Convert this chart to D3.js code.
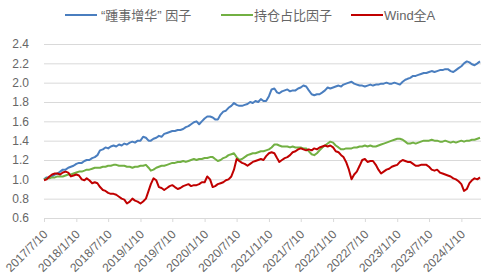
<!DOCTYPE html>
<html lang="zh">
<head>
    <meta charset="UTF-8">
    <title>d3</title>
    <script src="https://cdn.jsdelivr.net/npm/d3@7/dist/d3.min.js"></script>
    <style>
        body { margin: 0; background: #fff; }
        text { font-family: "Liberation Sans", Arial, "Noto Sans CJK SC", sans-serif; }
    </style>
</head>
<body>
    <script>
        // 半月一个数据点
        var dates = [
            "2017-07-10","2017-07-25","2017-08-10","2017-08-25","2017-09-10","2017-09-25","2017-10-10","2017-10-25","2017-11-10","2017-11-25","2017-12-10","2017-12-25",
            "2018-01-10","2018-01-25","2018-02-10","2018-02-25","2018-03-10","2018-03-25","2018-04-10","2018-04-25","2018-05-10","2018-05-25","2018-06-10","2018-06-25",
            "2018-07-10","2018-07-25","2018-08-10","2018-08-25","2018-09-10","2018-09-25","2018-10-10","2018-10-25","2018-11-10","2018-11-25","2018-12-10","2018-12-25",
            "2019-01-10","2019-01-25","2019-02-10","2019-02-25","2019-03-10","2019-03-25","2019-04-10","2019-04-25","2019-05-10","2019-05-25","2019-06-10","2019-06-25",
            "2019-07-10","2019-07-25","2019-08-10","2019-08-25","2019-09-10","2019-09-25","2019-10-10","2019-10-25","2019-11-10","2019-11-25","2019-12-10","2019-12-25",
            "2020-01-10","2020-01-25","2020-02-10","2020-02-25","2020-03-10","2020-03-25","2020-04-10","2020-04-25","2020-05-10","2020-05-25","2020-06-10","2020-06-25",
            "2020-07-10","2020-07-25","2020-08-10","2020-08-25","2020-09-10","2020-09-25","2020-10-10","2020-10-25","2020-11-10","2020-11-25","2020-12-10","2020-12-25",
            "2021-01-10","2021-01-25","2021-02-10","2021-02-25","2021-03-10","2021-03-25","2021-04-10","2021-04-25","2021-05-10","2021-05-25","2021-06-10","2021-06-25",
            "2021-07-10","2021-07-25","2021-08-10","2021-08-25","2021-09-10","2021-09-25","2021-10-10","2021-10-25","2021-11-10","2021-11-25","2021-12-10","2021-12-25",
            "2022-01-10","2022-01-25","2022-02-10","2022-02-25","2022-03-10","2022-03-25","2022-04-10","2022-04-25","2022-05-10","2022-05-25","2022-06-10","2022-06-25",
            "2022-07-10","2022-07-25","2022-08-10","2022-08-25","2022-09-10","2022-09-25","2022-10-10","2022-10-25","2022-11-10","2022-11-25","2022-12-10","2022-12-25",
            "2023-01-10","2023-01-25","2023-02-10","2023-02-25","2023-03-10","2023-03-25","2023-04-10","2023-04-25","2023-05-10","2023-05-25","2023-06-10","2023-06-25",
            "2023-07-10","2023-07-25","2023-08-10","2023-08-25","2023-09-10","2023-09-25","2023-10-10","2023-10-25","2023-11-10","2023-11-25","2023-12-10","2023-12-25",
            "2024-01-10","2024-01-25","2024-02-10","2024-02-25","2024-03-10","2024-03-25","2024-04-10","2024-04-25"
        ];
        // “踵事增华”因子
        var factorA = [
            1.00,1.02,1.02,1.03,1.05,1.06,1.08,1.10,1.10,1.12,1.13,1.14,
            1.16,1.17,1.17,1.19,1.20,1.20,1.22,1.23,1.25,1.30,1.31,1.33,
            1.32,1.34,1.35,1.34,1.36,1.35,1.37,1.36,1.38,1.39,1.38,1.40,
            1.40,1.44,1.43,1.40,1.40,1.42,1.43,1.45,1.44,1.47,1.48,1.49,
            1.50,1.50,1.51,1.51,1.52,1.54,1.55,1.57,1.59,1.60,1.57,1.60,
            1.63,1.65,1.65,1.64,1.62,1.62,1.67,1.70,1.71,1.74,1.76,1.79,
            1.77,1.76,1.76,1.77,1.78,1.80,1.79,1.81,1.80,1.83,1.81,1.81,
            1.86,1.93,1.94,1.90,1.89,1.91,1.92,1.93,1.91,1.92,1.92,1.94,
            1.95,1.97,1.96,1.92,1.88,1.87,1.88,1.88,1.90,1.92,1.95,1.94,
            1.95,1.96,1.97,1.96,1.98,1.99,2.00,2.01,1.99,1.98,1.97,1.97,
            1.96,1.97,1.98,1.97,1.98,1.98,1.99,1.99,2.00,1.99,1.99,2.00,
            1.99,1.98,2.01,2.03,2.04,2.05,2.07,2.07,2.08,2.09,2.10,2.10,
            2.11,2.12,2.11,2.12,2.13,2.13,2.14,2.14,2.12,2.11,2.13,2.15,
            2.17,2.20,2.22,2.21,2.19,2.18,2.20,2.22
        ];
        // 持仓占比因子
        var factorB = [
            1.00,1.01,1.01,1.02,1.02,1.03,1.03,1.03,1.04,1.05,1.05,1.06,
            1.07,1.08,1.08,1.09,1.10,1.10,1.11,1.12,1.12,1.12,1.13,1.13,
            1.14,1.14,1.15,1.15,1.14,1.14,1.14,1.13,1.13,1.12,1.13,1.13,
            1.14,1.14,1.15,1.12,1.09,1.10,1.12,1.13,1.14,1.14,1.15,1.16,
            1.17,1.17,1.18,1.18,1.19,1.18,1.19,1.20,1.21,1.20,1.21,1.21,
            1.22,1.22,1.23,1.23,1.21,1.19,1.20,1.22,1.23,1.25,1.26,1.27,
            1.23,1.20,1.21,1.23,1.25,1.26,1.27,1.27,1.28,1.29,1.29,1.30,
            1.31,1.33,1.36,1.36,1.35,1.34,1.34,1.34,1.33,1.34,1.33,1.33,
            1.33,1.32,1.32,1.29,1.26,1.25,1.27,1.30,1.33,1.35,1.37,1.39,
            1.38,1.35,1.33,1.31,1.31,1.32,1.32,1.32,1.33,1.33,1.34,1.34,
            1.35,1.34,1.35,1.34,1.34,1.35,1.36,1.37,1.38,1.39,1.40,1.41,
            1.42,1.42,1.41,1.39,1.37,1.37,1.38,1.37,1.38,1.39,1.40,1.40,
            1.40,1.41,1.40,1.40,1.39,1.39,1.40,1.39,1.38,1.39,1.38,1.39,
            1.40,1.39,1.40,1.40,1.41,1.41,1.42,1.43
        ];
        // Wind全A
        var windA = [
            0.99,1.00,1.03,1.05,1.06,1.06,1.05,1.07,1.08,1.07,1.03,1.04,
            1.05,1.04,1.00,0.99,1.01,0.99,0.96,0.97,0.96,0.92,0.89,0.88,
            0.86,0.85,0.85,0.84,0.82,0.80,0.79,0.75,0.77,0.80,0.78,0.77,
            0.75,0.77,0.80,0.88,0.95,1.01,0.99,0.92,0.91,0.89,0.91,0.93,
            0.94,0.92,0.90,0.91,0.93,0.94,0.95,0.93,0.94,0.94,0.95,0.97,
            0.97,1.03,1.00,0.92,0.93,0.95,0.96,0.97,0.99,1.00,1.03,1.10,
            1.21,1.19,1.17,1.16,1.14,1.16,1.18,1.19,1.20,1.21,1.20,1.24,
            1.27,1.28,1.27,1.22,1.18,1.20,1.22,1.23,1.25,1.28,1.29,1.31,
            1.32,1.31,1.30,1.31,1.30,1.32,1.31,1.33,1.34,1.35,1.34,1.35,
            1.33,1.29,1.28,1.25,1.23,1.18,1.10,1.00,1.05,1.08,1.14,1.20,
            1.21,1.18,1.19,1.19,1.15,1.10,1.06,1.08,1.10,1.11,1.13,1.14,
            1.15,1.18,1.20,1.19,1.18,1.18,1.16,1.14,1.14,1.15,1.15,1.15,
            1.13,1.10,1.09,1.10,1.07,1.06,1.05,1.04,1.03,1.01,1.00,0.98,
            0.95,0.88,0.90,0.96,0.99,1.01,1.00,1.02
        ];
        var seriesNames = ["\u201c踵事增华\u201d 因子", "持仓占比因子", "Wind全A"];
        var seriesColors = ["#4a7ebf", "#72b043", "#c00000"];
        var xTickLabels = ["2017/7/10","2018/1/10","2018/7/10","2019/1/10","2019/7/10","2020/1/10","2020/7/10",
                           "2021/1/10","2021/7/10","2022/1/10","2022/7/10","2023/1/10","2023/7/10","2024/1/10"];
        var yTicks = [0.6, 0.8, 1.0, 1.2, 1.4, 1.6, 1.8, 2.0, 2.2, 2.4];

        var width = 489, height = 279;
        var margin = { left: 44, right: 8, top: 44, bottom: 61 };
        var parse = d3.timeParse("%Y-%m-%d");
        var parseTick = d3.timeParse("%Y/%m/%d");
        var days = dates.map(parse);

        var svg = d3.select("body").append("svg").attr("width", width).attr("height", height);

        var xScale = d3.scaleTime().domain(d3.extent(days)).range([margin.left, 480]);
        var yScale = d3.scaleLinear().domain([0.6, 2.4]).range([height - margin.bottom, margin.top]);

        // 网格线
        svg.append("g")
            .attr("transform", "translate(" + margin.left + ",0)")
            .call(d3.axisLeft(yScale).tickValues(yTicks).tickSize(-(481 - margin.left)).tickFormat(d3.format(".1f")))
            .call(function (g) {
                g.select(".domain").remove();
                g.selectAll(".tick line").attr("stroke", "#d9d9d9").attr("stroke-width", 1);
                g.selectAll(".tick text").attr("x", -15).attr("fill", "#666").attr("font-size", 12);
            });

        // x 轴
        var tickDates = xTickLabels.map(parseTick);
        svg.append("g")
            .attr("transform", "translate(0," + yScale(0.6) + ")")
            .call(d3.axisBottom(xScale).tickValues(tickDates).tickSize(4).tickSizeOuter(0).tickFormat(function (d, i) { return xTickLabels[i]; }))
            .call(function (g) {
                g.select(".domain").attr("stroke", "#d9d9d9").attr("d", "M" + margin.left + ",0.5H481");
                g.selectAll(".tick line").attr("stroke", "#d9d9d9");
                g.selectAll(".tick text")
                    .attr("fill", "#666").attr("font-size", 12)
                    .attr("text-anchor", "end")
                    .attr("y", 0).attr("dy", 0)
                    .attr("transform", "translate(4,17) rotate(-45)");
            });

        // 折线
        var allSeries = [factorA, factorB, windA];
        var line = d3.line()
            .x(function (d, i) { return xScale(days[i]); })
            .y(function (d) { return yScale(d); });
        svg.selectAll("path.series")
            .data(allSeries)
            .enter()
            .append("path")
            .attr("class", "series")
            .attr("fill", "none")
            .attr("stroke", function (d, i) { return seriesColors[i]; })
            .attr("stroke-width", 2)
            .attr("stroke-linejoin", "round")
            .attr("d", line);

        // 图例
        var legendX = [65, 221, 351];
        var legend = svg.selectAll("g.legend")
            .data(seriesNames)
            .enter()
            .append("g")
            .attr("class", "legend")
            .attr("transform", function (d, i) { return "translate(" + legendX[i] + ",15)"; });
        legend.append("line")
            .attr("x1", 0).attr("x2", 32).attr("y1", 0).attr("y2", 0)
            .attr("stroke", function (d, i) { return seriesColors[i]; })
            .attr("stroke-width", 2);
        legend.append("text")
            .attr("x", function (d, i) { return i == 0 ? 36 : 33; })
            .attr("y", 0)
            .attr("dy", "0.35em")
            .attr("fill", "#666")
            .attr("font-size", 13)
            .text(function (d) { return d; });
    </script>
</body>
</html>
